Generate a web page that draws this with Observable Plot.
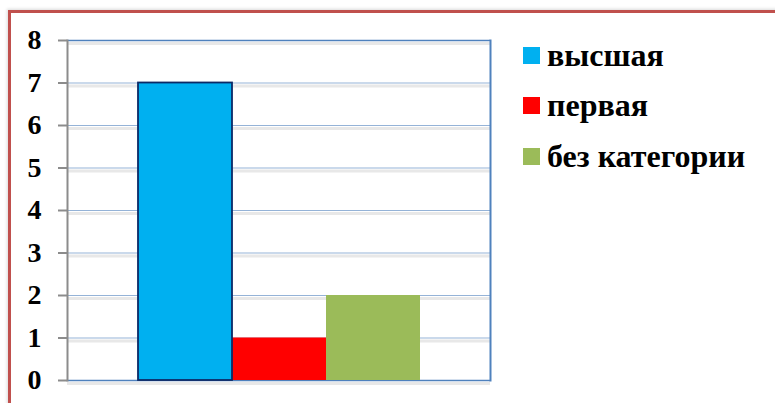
<!DOCTYPE html>
<html>
<head>
<meta charset="utf-8">
<script src="https://cdn.jsdelivr.net/npm/d3@7"></script>
<script src="https://cdn.jsdelivr.net/npm/@observablehq/plot@0.6"></script>
<style>
  html, body { margin: 0; padding: 0; background: #fff; }
  #wrap { position: relative; width: 775px; height: 403px; overflow: hidden; }
  #frame { position: absolute; left: 8px; top: 10px; width: 800px; height: 420px;
           border-left: 3px solid #c0504d; border-top: 3px solid #c0504d;
           box-shadow: -1px -1px 3px rgba(0,0,0,0.15); }
  #chart { position: absolute; left: 0; top: 0; }
  #legend { position: absolute; left: 523px; top: 30px; font-family: "Liberation Serif", serif;
            font-weight: bold; font-size: 32px; color: #000; }
  .item { display: flex; align-items: center; height: 50.5px; }
  .sw { width: 17px; height: 17px; margin-right: 7px; }
</style>
</head>
<body>
<div id="wrap">
  <div id="frame"></div>
  <div id="chart"></div>
  <div id="legend"></div>
</div>
<script>
const categories = ["высшая", "первая", "без категории"];
const values = [7, 1, 2];
const colors = ["#00b0f0", "#ff0000", "#9bbb59"];
const yTicks = [0, 1, 2, 3, 4, 5, 6, 7, 8];

const data = categories.map((c, i) => ({category: c, value: values[i]}));

const chart = Plot.plot({
  width: 775,
  height: 403,
  marginLeft: 67,
  marginTop: 40,
  marginRight: 285,
  marginBottom: 23,
  style: {background: "transparent", fontFamily: "Liberation Serif, serif"},
  x: {domain: categories, paddingInner: 0, paddingOuter: 0.75, axis: null},
  y: {domain: [0, 8], ticks: yTicks, label: null},
  color: {domain: categories, range: colors},
  marks: [
    Plot.ruleY(yTicks, {stroke: "#d9d9d9", strokeWidth: 3, dy: 3, strokeOpacity: 0.6}),
    Plot.ruleY(yTicks.filter(d => d > 0 && d < 8), {stroke: "#95b3d7", strokeWidth: 1.2}),
    Plot.ruleY([8], {stroke: "#4f81bd", strokeWidth: 1.5}),
    Plot.ruleY([0], {stroke: "#4f81bd", strokeWidth: 1.5}),
    Plot.barY(data, {x: "category", y: "value", fill: "category", inset: 0}),
    Plot.barY(data.filter(d => d.category === "высшая"), {x: "category", y: "value", fill: "none", stroke: "#0c2a66", strokeWidth: 1.8, inset: 0}),
    Plot.frame({anchor: "right", stroke: "#4f81bd", strokeWidth: 2}),
    Plot.frame({anchor: "left", stroke: "#8c8c8c", strokeWidth: 2}),
    Plot.axisY({ticks: yTicks, label: null, tickSize: 9, tickPadding: 17, stroke: "#8c8c8c", strokeWidth: 2,
                tickFormat: d => String(d), fontSize: 28, fontWeight: "bold", fill: "#000"})
  ]
});
document.getElementById("chart").appendChild(chart);

const legend = document.getElementById("legend");
categories.forEach((c, i) => {
  const row = document.createElement("div");
  row.className = "item";
  const sw = document.createElement("div");
  sw.className = "sw";
  sw.style.background = colors[i];
  const label = document.createElement("span");
  label.textContent = c;
  row.appendChild(sw);
  row.appendChild(label);
  legend.appendChild(row);
});
</script>
</body>
</html>
